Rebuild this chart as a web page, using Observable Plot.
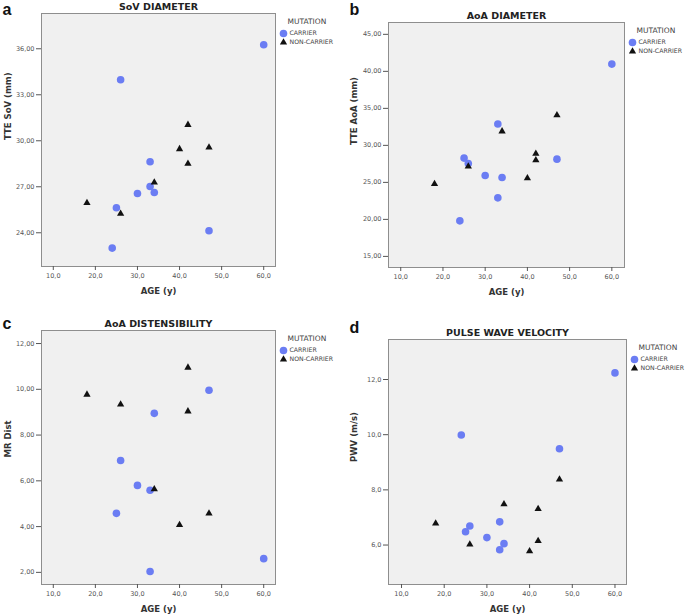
<!DOCTYPE html>
<html><head><meta charset="utf-8">
<script src="https://cdn.jsdelivr.net/npm/d3@7"></script>
<script src="https://cdn.jsdelivr.net/npm/@observablehq/plot@0.6"></script>
<style>
body{margin:0;background:#fff;width:685px;height:614px;position:relative;overflow:hidden;font-family:"DejaVu Sans",sans-serif}
.panel{position:absolute}
.panel svg{display:block}
</style></head><body>
<div id="pa" class="panel" style="left:0;top:0"></div>
<div id="pb" class="panel" style="left:342px;top:0"></div>
<div id="pc" class="panel" style="left:0;top:307px"></div>
<div id="pd" class="panel" style="left:342px;top:307px"></div>
<script>
// Ages of the two groups
const carrierAge = [24, 25, 26, 30, 33, 33, 34, 47, 60];
const nonCarrierAge = [18, 26, 34, 40, 42, 42, 47];

// a: SoV diameter (mm)
const sovCarrier = [23.0, 25.63, 33.98, 26.56, 28.63, 27.02, 26.63, 24.13, 36.26];
const sovNonCarrier = [25.95, 25.24, 27.28, 29.46, 31.04, 28.5, 29.56];
// b: AoA diameter (mm)
const aoaCarrier = [19.8, 28.28, 27.56, 25.93, 32.89, 22.91, 25.66, 28.14, 40.98];
const aoaNonCarrier = [24.8, 27.15, 31.9, 25.57, 28.87, 28.0, 34.07];
// c: AoA distensibility (MR Dist) - carrier aged 24 has no value
const distCarrier = [null, 4.58, 6.89, 5.80, 5.59, 2.04, 8.95, 9.96, 2.60];
const distNonCarrier = [9.77, 9.34, 5.64, 4.07, 10.95, 9.04, 4.58];
// d: pulse wave velocity (m/s)
const pwvCarrier = [9.99, 6.48, 6.69, 6.27, 6.84, 5.83, 6.05, 9.49, 12.24];
const pwvNonCarrier = [6.78, 6.02, 7.48, 5.78, 7.31, 6.15, 8.38];

// Tick labels
const xTicks = [10, 20, 30, 40, 50, 60];
const sovTicks = [24, 27, 30, 33, 36];
const aoaTicks = [15, 20, 25, 30, 35, 40, 45];
const distTicks = [2, 4, 6, 8, 10, 12];
const pwvTicks = [6, 8, 10, 12];

const titles = ["SoV DIAMETER", "AoA DIAMETER", "AoA DISTENSIBILITY", "PULSE WAVE VELOCITY"];
const yLabels = ["TTE SoV (mm)", "TTE AoA (mm)", "MR Dist", "PWV (m/s)"];
const letters = ["a", "b", "c", "d"];
const xLabel = "AGE (y)";
const legendTitle = "MUTATION";
const groups = ["CARRIER", "NON-CARRIER"];

const BLUE = "#6b7df3";
const BLACK = "#111111";

function makePanel(o) {
  const carriers = carrierAge.map((age, i) => ({age, v: o.carrier[i]})).filter(d => d.v != null);
  const non = nonCarrierAge.map((age, i) => ({age, v: o.non[i]}));
  const fmtX = d => d.toFixed(1).replace(".", ",");
  const fmtY = d => d.toFixed(o.dec).replace(".", ",");
  const H = 307;
  const T = {lineAnchor: "middle"};
  const plot = Plot.plot({
    width: o.w, height: H,
    marginLeft: o.ml, marginTop: o.mt, marginRight: o.w - o.fr, marginBottom: H - o.fb,
    style: {background: "#fff", fontFamily: "'DejaVu Sans', sans-serif", overflow: "visible"},
    x: {domain: o.xd},
    y: {domain: o.yd},
    marks: [
      Plot.frame({fill: "#f0f0f0", stroke: "#8e8e8e", strokeWidth: 1}),
      Plot.axisX({ticks: xTicks, tickFormat: fmtX, tickSize: 4, tickPadding: 3, fontSize: 6.5, color: "#555", label: null}),
      Plot.axisY({ticks: o.yTicks, tickFormat: fmtY, tickSize: 5, tickPadding: 2, fontSize: 6.5, color: "#555", label: null}),
      Plot.dot(carriers, {x: "age", y: "v", r: 3.8, fill: BLUE, symbol: "circle"}),
      Plot.dot(non, {x: "age", y: "v", r: 2.7, fill: BLACK, symbol: "triangle"}),
      Plot.text([o.title], {...T, frameAnchor: "top", dy: -7, fontWeight: "bold", fontSize: 9.5, fill: "#222"}),
      Plot.text([xLabel], {...T, frameAnchor: "bottom", dy: 25, fontWeight: "bold", fontSize: 8.5, fill: "#333"}),
      Plot.text([o.ylabel], {...T, frameAnchor: "left", dx: o.ydx, rotate: -90, fontWeight: "bold", fontSize: 8.5, fill: "#333"}),
      Plot.text([o.letter], {...T, frameAnchor: "top-left", dx: -39, dy: o.ldy, textAnchor: "start", fontWeight: "bold", fontSize: 16, fontFamily: "'Liberation Sans', Arial, sans-serif", fill: "#111"}),
      Plot.text([legendTitle], {...T, frameAnchor: "top-right", dx: 12, dy: 8, textAnchor: "start", fontSize: 7.5, fill: "#444"}),
      Plot.dot([groups[0]], {frameAnchor: "top-right", dx: 8, dy: 20, r: 3.8, fill: BLUE, symbol: "circle"}),
      Plot.text([groups[0]], {...T, frameAnchor: "top-right", dx: 14, dy: 20, textAnchor: "start", fontSize: 6.2, fill: "#444"}),
      Plot.dot([groups[1]], {frameAnchor: "top-right", dx: 8, dy: 29, r: 2.7, fill: BLACK, symbol: "triangle"}),
      Plot.text([groups[1]], {...T, frameAnchor: "top-right", dx: 14, dy: 29, textAnchor: "start", fontSize: 6.2, fill: "#444"})
    ]
  });
  document.getElementById(o.id).appendChild(plot);
}

makePanel({id: "pa", w: 342, ml: 41, mt: 13, fr: 275, fb: 266, xd: [7.2, 62.8], yd: [21.8, 38.3],
  yTicks: sovTicks, dec: 2, carrier: sovCarrier, non: sovNonCarrier, title: titles[0], ylabel: yLabels[0], letter: letters[0], ldy: -4, ydx: -33});
makePanel({id: "pb", w: 343, ml: 46, mt: 22, fr: 282, fb: 267, xd: [7.1, 63.0], yd: [13.5, 46.6],
  yTicks: aoaTicks, dec: 2, carrier: aoaCarrier, non: aoaNonCarrier, title: titles[1], ylabel: yLabels[1], letter: letters[1], ldy: -13, ydx: -34});
makePanel({id: "pc", w: 342, ml: 41, mt: 23, fr: 275, fb: 277, xd: [7.2, 62.8], yd: [1.47, 12.57],
  yTicks: distTicks, dec: 2, carrier: distCarrier, non: distNonCarrier, title: titles[2], ylabel: yLabels[2], letter: letters[2], ldy: -7, ydx: -33});
makePanel({id: "pd", w: 343, ml: 46, mt: 32, fr: 284, fb: 277, xd: [6.95, 62.7], yd: [4.57, 13.45],
  yTicks: pwvTicks, dec: 1, carrier: pwvCarrier, non: pwvNonCarrier, title: titles[3], ylabel: yLabels[3], letter: letters[3], ldy: -12, ydx: -34});
</script>
</body></html>
